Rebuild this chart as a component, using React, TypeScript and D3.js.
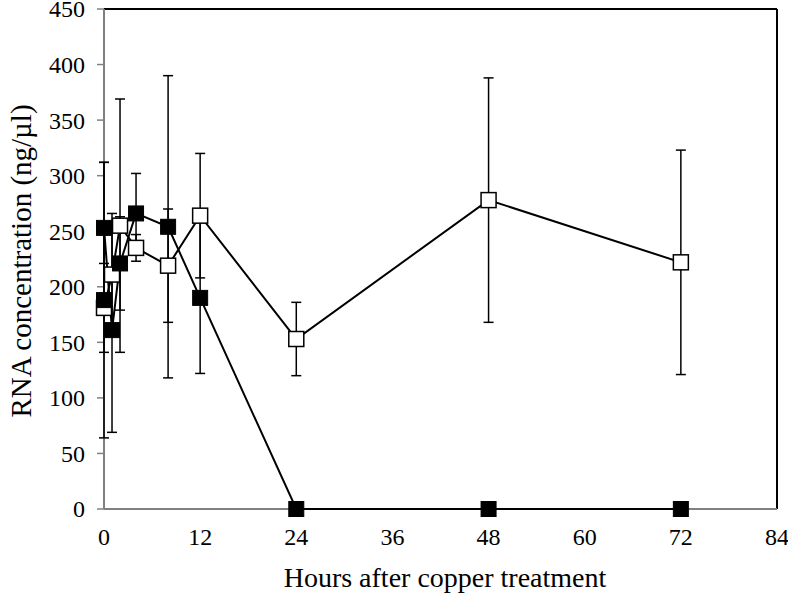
import React from "react";
import * as d3 from "d3";

// Hours after copper treatment
const openHours = [0, 1, 2, 4, 8, 12, 24, 48, 72];
const openValues = [181, 211, 255, 235, 219, 264, 153, 278, 222];
const openErrors = [40, 55, 114, 12, 51, 56, 33, 110, 101];

const filledHours = [0, 0, 1, 2, 4, 8, 12, 24, 48, 72];
const filledValues = [188, 253, 161, 221, 266, 254, 190, 0, 0, 0];
const filledErrors = [124, 59, 92, 42, 36, 136, 68, 0, 0, 0];

const xTicks = [0, 12, 24, 36, 48, 60, 72, 84];
const yTicks = [0, 50, 100, 150, 200, 250, 300, 350, 400, 450];

const xTitle = "Hours after copper treatment";
const yTitle = "RNA concentration (ng/µl)";

export default function App() {
  const W = 788;
  const H = 605;
  const left = 104;
  const right = 777;
  const top = 9;
  const bottom = 509;
  const x = d3.scaleLinear().domain([0, 84]).range([left, right]);
  const y = d3.scaleLinear().domain([0, 450]).range([bottom, top]);
  const font = "Liberation Serif, DejaVu Serif, serif";
  const ms = 15;
  const capW = 10;

  const openPts = openHours.map((h, i) => ({ h, v: openValues[i], e: openErrors[i] }));
  const filledPts = filledHours.map((h, i) => ({ h, v: filledValues[i], e: filledErrors[i] }));
  const line = d3
    .line<{ h: number; v: number }>()
    .x((d) => x(d.h))
    .y((d) => y(d.v));

  const errBars = (pts: { h: number; v: number; e: number }[], key: string) =>
    pts
      .filter((p) => p.e > 0)
      .map((p, i) => {
        const cx = x(p.h);
        const y1 = y(p.v + p.e);
        const y2 = y(p.v - p.e);
        return (
          <g key={key + i} stroke="#000" strokeWidth={1.5}>
            <line x1={cx} x2={cx} y1={y1} y2={y2} />
            <line x1={cx - capW / 2} x2={cx + capW / 2} y1={y1} y2={y1} />
            <line x1={cx - capW / 2} x2={cx + capW / 2} y1={y2} y2={y2} />
          </g>
        );
      });

  const tickStyle = { fontFamily: font, fontSize: "24px" };
  const titleStyle = { fontFamily: font, fontSize: "28px" };

  return (
    <svg width={W} height={H} style={{ position: "absolute", left: 0, top: 0, background: "#fff" }}>
      <rect x={0} y={0} width={W} height={H} fill="#fff" />
      {/* frame */}
      <line x1={left} x2={right} y1={top} y2={top} stroke="#000" strokeWidth={2} />
      <line x1={right} x2={right} y1={top} y2={bottom} stroke="#000" strokeWidth={2} />
      {/* axes */}
      <line x1={left} x2={right} y1={bottom} y2={bottom} stroke="#808080" strokeWidth={2} />
      <line x1={left} x2={left} y1={top} y2={bottom} stroke="#808080" strokeWidth={2} />
      {yTicks.map((t) => (
        <g key={"yt" + t}>
          <line x1={left - 7} x2={left} y1={y(t)} y2={y(t)} stroke="#808080" strokeWidth={1.5} />
          <text x={left - 19} y={y(t)} dy="0.35em" textAnchor="end" style={tickStyle} fill="#000">
            {t}
          </text>
        </g>
      ))}
      {xTicks.map((t) => (
        <text key={"xt" + t} x={x(t)} y={545} textAnchor="middle" style={tickStyle} fill="#000">
          {t}
        </text>
      ))}
      <text x={445} y={587} textAnchor="middle" style={titleStyle} fill="#000">
        {xTitle}
      </text>
      <text
        transform={`translate(31, 261) rotate(-90)`}
        textAnchor="middle"
        style={{ fontFamily: font, fontSize: "29px" }}
        fill="#000"
      >
        {yTitle}
      </text>
      {/* error bars */}
      {errBars(openPts, "oe")}
      {errBars(filledPts, "fe")}
      {/* lines */}
      <path d={line(openPts) || ""} fill="none" stroke="#000" strokeWidth={2} />
      <path d={line(filledPts) || ""} fill="none" stroke="#000" strokeWidth={2} />
      {/* markers */}
      {openPts.map((p, i) => (
        <rect
          key={"om" + i}
          x={x(p.h) - ms / 2}
          y={y(p.v) - ms / 2}
          width={ms}
          height={ms}
          fill="#fff"
          stroke="#000"
          strokeWidth={1.5}
        />
      ))}
      {filledPts.map((p, i) => (
        <rect
          key={"fm" + i}
          x={x(p.h) - ms / 2}
          y={y(p.v) - ms / 2}
          width={ms}
          height={ms}
          fill="#000"
          stroke="#000"
          strokeWidth={1}
        />
      ))}
    </svg>
  );
}
